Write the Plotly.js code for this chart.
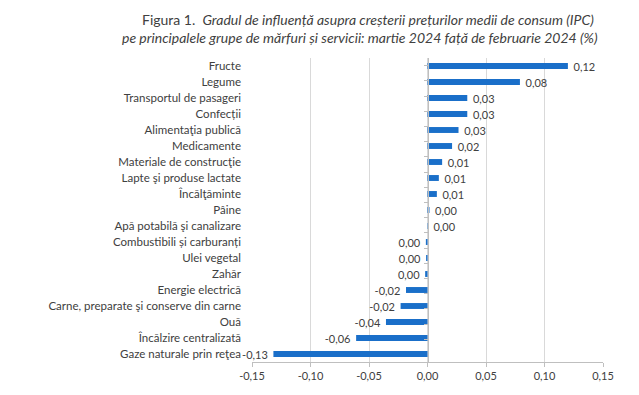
<!DOCTYPE html>
<html>
<head>
<meta charset="utf-8">
<script src="https://cdn.plot.ly/plotly-3.0.1.min.js"></script>
<style>html,body{margin:0;padding:0;background:#fff;}#chart{width:639px;height:395px;}</style>
</head>
<body>
<div id="chart"></div>
<script>
const categories = [
  "Fructe", "Legume", "Transportul de pasageri", "Confecții", "Alimentaţia publică",
  "Medicamente", "Materiale de construcţie", "Lapte şi produse lactate", "Încălţăminte", "Pâine",
  "Apă potabilă şi canalizare", "Combustibili și carburanți", "Ulei vegetal", "Zahăr", "Energie electrică",
  "Carne, preparate şi conserve din carne", "Ouă", "Încălzire centralizată", "Gaze naturale prin reţea"
];
const values = [
  0.120, 0.079, 0.034, 0.034, 0.0265,
  0.021, 0.0125, 0.0097, 0.008, 0.0017,
  0.0003, -0.0014, -0.0012, -0.002, -0.0184,
  -0.023, -0.0355, -0.061, -0.1317
];
const tickValues = [-0.15, -0.10, -0.05, 0.00, 0.05, 0.10, 0.15];
const tickLabels = ["-0,15", "-0,10", "-0,05", "0,00", "0,05", "0,10", "0,15"];
const titleLine1 = "Figura 1.  <i>Gradul de influență asupra creșterii prețurilor medii de consum (IPC)</i>";
const titleLine2 = "<i>pe principalele grupe de mărfuri și servicii: martie 2024 față de februarie 2024 (%)</i>";

const NB = "\u00a0";
function fmt(v) {
  const s = Math.abs(v) < 0.005 ? "0,00" : v.toFixed(2).replace(".", ",");
  return v >= 0 ? NB + NB + s : s + NB + NB;
}
const labels = values.map(fmt);

const FONT = "Lato, 'Open Sans', sans-serif";
const TXT = "#404040";

const traces = [
  {
    type: "bar", orientation: "h",
    x: values, y: categories,
    marker: {color: "#1a6fc9"},
    text: labels, textposition: "outside", constraintext: "none", cliponaxis: false,
    textfont: {family: FONT, size: 11, color: TXT},
    hoverinfo: "skip"
  },
  {
    type: "scatter", mode: "none",
    x: values, y: categories, yaxis: "y2",
    hoverinfo: "skip", showlegend: false
  }
];

const layout = {
  width: 639, height: 395,
  margin: {l: 252, r: 36, t: 58, b: 33},
  paper_bgcolor: "#fff", plot_bgcolor: "#fff",
  showlegend: false,
  bargap: 0.63,
  font: {family: FONT, color: TXT, size: 11},
  annotations: [
    {text: titleLine1, xref: "paper", yref: "paper", x: 0.33, y: 1.128,
     xanchor: "center", yanchor: "middle", showarrow: false,
     font: {family: FONT, size: 14, color: TXT}},
    {text: titleLine2, xref: "paper", yref: "paper", x: 0.308, y: 1.069,
     xanchor: "center", yanchor: "middle", showarrow: false,
     font: {family: FONT, size: 14, color: TXT}}
  ],
  xaxis: {
    range: [-0.15, 0.15], tickvals: tickValues, ticktext: tickLabels,
    showgrid: true, gridcolor: "#d9d9d9", gridwidth: 1,
    zeroline: false,
    showline: true, linecolor: "#bfbfbf", linewidth: 1,
    ticks: "outside", ticklen: 4, tickcolor: "#bfbfbf",
    tickfont: {family: FONT, size: 11, color: TXT},
    fixedrange: true
  },
  yaxis: {
    type: "category", autorange: "reversed",
    showgrid: false, zeroline: false, showline: false, ticks: "",
    ticklabelstandoff: 10,
    tickfont: {family: FONT, size: 11.5, color: TXT},
    fixedrange: true
  },
  yaxis2: {
    type: "category", autorange: "reversed",
    overlaying: "y", anchor: "free", position: 0.5, side: "left",
    showgrid: false, zeroline: false, showline: true, linecolor: "#bfbfbf", linewidth: 1,
    ticks: "outside", ticklen: 4, tickcolor: "#bfbfbf", tickson: "boundaries",
    showticklabels: false, fixedrange: true
  }
};

Plotly.newPlot("chart", traces, layout, {displayModeBar: false, staticPlot: true});
</script>
</body>
</html>
